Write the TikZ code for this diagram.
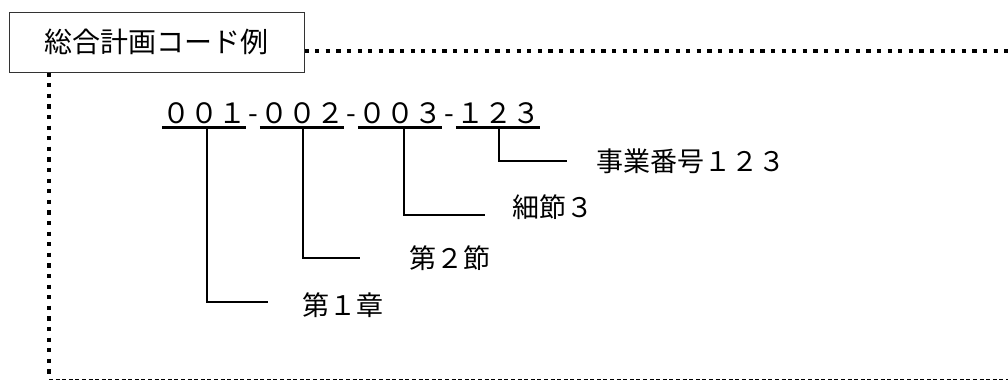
\documentclass[tikz,border=0pt]{standalone}
\usepackage{fontspec}
\newfontfamily\jp{Noto Sans CJK JP}
\begin{document}
\begin{tikzpicture}[x=1pt,y=-1pt,
  titlebox/.style={draw=black!80, line width=1pt, inner sep=0pt, minimum width=295pt, minimum height=60pt, font=\jp\fontsize{28}{30}\selectfont},
  codegrp/.style={inner sep=0pt, minimum width=84pt, text height=21pt, text depth=4pt, anchor=base, font=\jp\fontsize{28}{30}\selectfont},
  codesep/.style={inner sep=0pt, anchor=base, font=\jp\fontsize{28}{30}\selectfont},
  lbl/.style={inner sep=0pt, anchor=west, text height=23pt, text depth=2.7pt, font=\jp\fontsize{27}{30}\selectfont},
  uline/.style={line width=2.6pt},
  conn/.style={line width=2pt},
  thickdots/.style={line width=4.5pt, dash pattern=on 4.2pt off 6.4pt},
  thindash/.style={line width=1.3pt, dash pattern=on 4pt off 2.6pt}]
\useasboundingbox (0,0) rectangle (1008,381);
% title box
\node[titlebox] (title) at (156.5,42) {総合計画コード例};
% frame
\coordinate (tr) at (1014,51);
\coordinate (bl) at (49,379.8);
\coordinate (br) at (1014,379.8);
\draw[thickdots] (title.east |- tr) -- (tr);
\draw[thickdots] (title.south -| bl) -- (bl);
\draw[thindash] (bl) -- (br);
% code
\node[codegrp] (g1) at (204,123) {００１};
\node[codesep] (h1) at (253,123) {-};
\node[codegrp] (g2) at (302,123) {００２};
\node[codesep] (h2) at (351,123) {-};
\node[codegrp] (g3) at (400,123) {００３};
\node[codesep] (h3) at (449,123) {-};
\node[codegrp] (g4) at (498,123) {１２３};
\foreach \g in {g1,g2,g3,g4}
  \draw[uline] (\g.south west) -- (\g.south east);
% labels
\node[lbl] (l1) at (302,305) {第１章};
\node[lbl] (l2) at (409,258) {第２節};
\node[lbl] (l3) at (512,207) {細節３};
\node[lbl] (l4) at (596,161) {事業番号１２３};
% connector ends
\coordinate (e1) at (268,302);
\coordinate (e2) at (360,258);
\coordinate (e3) at (485,215);
\coordinate (e4) at (567,161);
\draw[conn] ([xshift=3pt]g1.south) |- (e1);
\draw[conn] ([xshift=1pt]g2.south) |- (e2);
\draw[conn] ([xshift=4pt]g3.south) |- (e3);
\draw[conn] ([xshift=1pt]g4.south) |- (e4);
\end{tikzpicture}
\end{document}
